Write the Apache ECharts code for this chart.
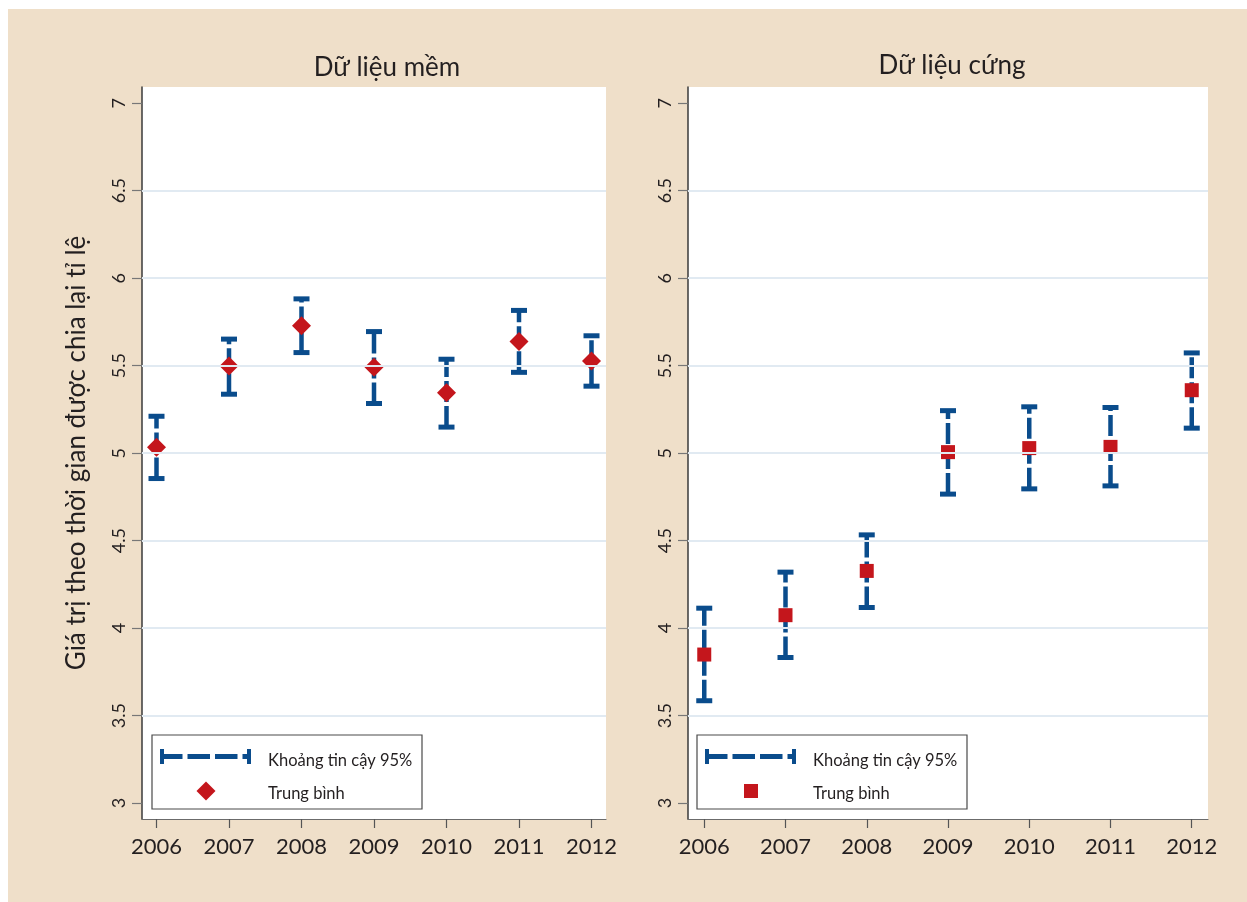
<!DOCTYPE html>
<html><head><meta charset="utf-8">
<script src="https://cdn.jsdelivr.net/npm/echarts@6/dist/echarts.min.js"></script>
<style>html,body{margin:0;padding:0;background:#fff}#c{width:1247px;height:902px}</style>
</head><body><div id="c"></div>
<script>
const years = [2006, 2007, 2008, 2009, 2010, 2011, 2012];
const softMean = [5.034, 5.498, 5.728, 5.491, 5.345, 5.638, 5.527];
const softLow  = [4.855, 5.337, 5.575, 5.284, 5.149, 5.462, 5.383];
const softHigh = [5.211, 5.652, 5.882, 5.695, 5.537, 5.816, 5.671];
const hardMean = [3.849, 4.074, 4.327, 5.006, 5.029, 5.036, 5.360];
const hardLow  = [3.585, 3.832, 4.118, 4.766, 4.796, 4.813, 5.143];
const hardHigh = [4.114, 4.320, 4.533, 5.243, 5.265, 5.261, 5.573];
const yTicks = [3, 3.5, 4, 4.5, 5, 5.5, 6, 6.5, 7];
const gridValues = [3.5, 4, 4.5, 5, 5.5, 6, 6.5];
const panelTitles = ['Dữ liệu mềm', 'Dữ liệu cứng'];
const legendLabels = ['Khoảng tin cậy 95%', 'Trung bình'];
const yTitle = 'Giá trị theo thời gian được chia lại tỉ lệ';

const FONT = 'Lato, "Noto Sans", sans-serif';
const BLUE = '#0A4C8C';
const RED = '#C4161C';
const TXT = '#231F20';
const BG = '#EFDFC9';
const GRIDLINE = '#E1EAF2';

const chart = echarts.init(document.getElementById('c'), null, {renderer: 'canvas'});

function ciData(lo, hi) { return years.map((y, i) => [y, lo[i], hi[i]]); }
function meanData(m) { return years.map((y, i) => [y, m[i]]); }

function renderCI(params, api) {
  const x = api.value(0), lo = api.value(1), hi = api.value(2);
  const a = api.coord([x, lo]), b = api.coord([x, hi]);
  const half = 8;
  return {
    type: 'group',
    children: [
      {type: 'line', shape: {x1: a[0], y1: a[1], x2: b[0], y2: b[1]},
       style: {stroke: BLUE, lineWidth: 4.5, lineDash: [21, 4]}},
      {type: 'line', shape: {x1: a[0] - half, y1: a[1], x2: a[0] + half, y2: a[1]},
       style: {stroke: BLUE, lineWidth: 5}},
      {type: 'line', shape: {x1: b[0] - half, y1: b[1], x2: b[0] + half, y2: b[1]},
       style: {stroke: BLUE, lineWidth: 5}}
    ]
  };
}

function xAxisCfg(idx) {
  return {
    type: 'value', gridIndex: idx, min: 2005.8, max: 2012.2,
    axisLine: {show: true, lineStyle: {color: '#6b6b6b', width: 1.2}},
    axisTick: {show: true, length: 9, customValues: years, lineStyle: {color: '#555', width: 1.2}},
    axisLabel: {customValues: years, margin: 17, fontSize: 22, color: TXT, fontFamily: FONT,
      formatter: v => String(v)},
    splitLine: {show: false}
  };
}
function yAxisCfg(idx) {
  const cfg = {
    type: 'value', gridIndex: idx, min: 2.909, max: 7.093,
    axisLine: {show: true, lineStyle: {color: '#3a3a3a', width: 1.5}},
    axisTick: {show: true, length: 10, customValues: yTicks, lineStyle: {color: '#777', width: 1.2}},
    axisLabel: {customValues: yTicks, rotate: 90, margin: 14, fontSize: 18, color: TXT, fontFamily: FONT,
      formatter: v => String(v)},
    splitLine: {show: false}
  };
  if (idx === 0) {
    cfg.name = yTitle;
    cfg.nameLocation = 'middle';
    cfg.nameRotate = 90;
    cfg.nameGap = 52;
    cfg.nameTextStyle = {fontSize: 26, color: TXT, fontFamily: FONT};
  }
  return cfg;
}

function gridSeries(idx) {
  return {
    type: 'scatter', xAxisIndex: idx, yAxisIndex: idx, data: [], z: 1, silent: true,
    markLine: {
      silent: true, symbol: ['none', 'none'], label: {show: false},
      lineStyle: {color: GRIDLINE, width: 2.2, type: 'solid'},
      data: gridValues.map(v => ({yAxis: v}))
    }
  };
}

function legendGroup(x, y, markerSymbol) {
  const ly = y + 21.5;
  const x0 = x + 8, x1 = x + 99;
  const children = [
    {type: 'rect', shape: {x: x, y: y, width: 270, height: 74},
     style: {fill: '#fff', stroke: '#4a4a4a', lineWidth: 1.2}},
    {type: 'line', shape: {x1: x0, y1: ly, x2: x1, y2: ly},
     style: {stroke: BLUE, lineWidth: 5, lineDash: [22.5, 5]}},
    {type: 'line', shape: {x1: x0 + 2, y1: ly - 7.5, x2: x0 + 2, y2: ly + 7.5},
     style: {stroke: BLUE, lineWidth: 4}},
    {type: 'line', shape: {x1: x1 - 2, y1: ly - 7.5, x2: x1 - 2, y2: ly + 7.5},
     style: {stroke: BLUE, lineWidth: 4}},
    {type: 'text', x: x + 116, y: ly + 4, style: {text: legendLabels[0], fill: TXT,
      font: '16.5px ' + FONT, textVerticalAlign: 'middle', verticalAlign: 'middle'}},
    {type: 'text', x: x + 116, y: y + 59, style: {text: legendLabels[1], fill: TXT,
      font: '16.5px ' + FONT, textVerticalAlign: 'middle', verticalAlign: 'middle'}}
  ];
  if (markerSymbol === 'diamond') {
    children.push({type: 'polygon', shape: {points: [[x + 54, y + 46.5], [x + 63.5, y + 56], [x + 54, y + 65.5], [x + 44.5, y + 56]]},
      style: {fill: RED}});
  } else {
    children.push({type: 'rect', shape: {x: x + 47, y: y + 49, width: 14, height: 14}, style: {fill: RED}});
  }
  return {type: 'group', z: 50, children: children};
}

const option = {
  backgroundColor: '#ffffff',
  animation: false,
  textStyle: {fontFamily: FONT},
  title: [
    {text: panelTitles[0], left: 382, top: 50, textAlign: 'center',
     textStyle: {fontSize: 26, fontWeight: 'normal', color: TXT, fontFamily: FONT}},
    {text: panelTitles[1], left: 947, top: 48, textAlign: 'center',
     textStyle: {fontSize: 26, fontWeight: 'normal', color: TXT, fontFamily: FONT}}
  ],
  grid: [
    {left: 142, top: 87, width: 464, height: 732, backgroundColor: '#fff', show: true, borderWidth: 0},
    {left: 688, top: 87, width: 520, height: 732, backgroundColor: '#fff', show: true, borderWidth: 0}
  ],
  xAxis: [xAxisCfg(0), xAxisCfg(1)],
  yAxis: [yAxisCfg(0), yAxisCfg(1)],
  graphic: [
    {type: 'rect', z: -100, silent: true, shape: {x: 8, y: 9, width: 1247, height: 902}, style: {fill: BG}},
    legendGroup(152, 735, 'diamond'),
    legendGroup(697, 735, 'rect')
  ],
  series: [
    gridSeries(0),
    gridSeries(1),
    {type: 'custom', name: legendLabels[0], xAxisIndex: 0, yAxisIndex: 0, z: 2,
     renderItem: renderCI, data: ciData(softLow, softHigh), encode: {x: 0, y: [1, 2]}},
    {type: 'custom', name: legendLabels[0], xAxisIndex: 1, yAxisIndex: 1, z: 2,
     renderItem: renderCI, data: ciData(hardLow, hardHigh), encode: {x: 0, y: [1, 2]}},
    {type: 'scatter', name: legendLabels[1], xAxisIndex: 0, yAxisIndex: 0, z: 3,
     symbol: 'diamond', symbolSize: 19, itemStyle: {color: RED, opacity: 1}, data: meanData(softMean)},
    {type: 'scatter', name: legendLabels[1], xAxisIndex: 1, yAxisIndex: 1, z: 3,
     symbol: 'rect', symbolSize: 14, itemStyle: {color: RED, opacity: 1}, data: meanData(hardMean)}
  ]
};
chart.setOption(option);
</script>
</body></html>
